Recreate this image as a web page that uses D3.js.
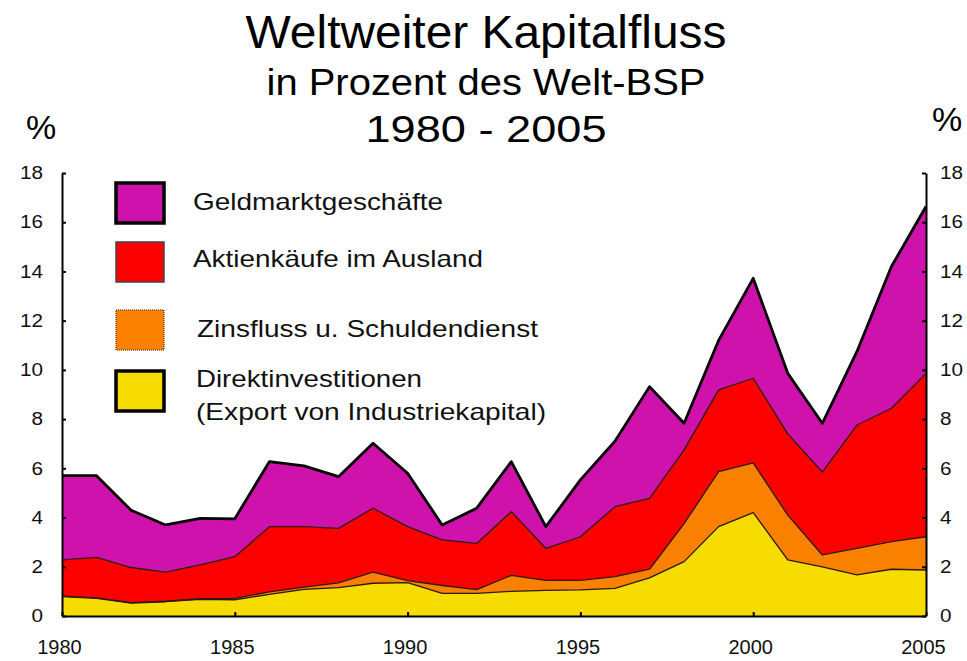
<!DOCTYPE html>
<html>
<head>
<meta charset="utf-8">
<script src="https://cdn.jsdelivr.net/npm/d3@7"></script>
<style>
  body { margin: 0; background: #fff; }
  svg { display: block; font-family: "Liberation Sans", Arial, sans-serif; }
  .axis path, .axis line { stroke: #000; stroke-width: 2; }
  .axis text { fill: #111; font-family: "Liberation Sans", Arial, sans-serif; }
</style>
</head>
<body>
<svg id="chart" width="967" height="661"></svg>
<script>
// Jahre und Werte (Prozent des Welt-BSP), von unten nach oben gestapelt
const years = d3.range(1980, 2006);
const direkt = [0.79, 0.72, 0.52, 0.58, 0.68, 0.66, 0.88, 1.08, 1.15, 1.33, 1.36, 0.92, 0.92,
                1.00, 1.04, 1.06, 1.12, 1.55, 2.21, 3.63, 4.20, 2.28, 2.00, 1.67, 1.90, 1.87];
const zins   = [0.02, 0.02, 0.02, 0.02, 0.02, 0.06, 0.10, 0.09, 0.20, 0.45, 0.08, 0.32, 0.15,
                0.65, 0.41, 0.39, 0.48, 0.35, 1.54, 2.24, 2.02, 1.82, 0.48, 1.08, 1.12, 1.35];
const aktien = [1.47, 1.64, 1.43, 1.18, 1.38, 1.69, 2.65, 2.46, 2.21, 2.60, 2.19, 1.85, 1.88,
                2.59, 1.30, 1.77, 2.84, 2.88, 3.00, 3.32, 3.44, 3.30, 3.37, 5.01, 5.42, 6.64];
const geld   = [3.42, 3.32, 2.33, 1.92, 1.89, 1.54, 2.64, 2.47, 2.10, 2.64, 2.17, 0.61, 1.43,
                2.03, 0.88, 2.31, 2.66, 4.54, 1.08, 2.01, 4.06, 2.46, 1.98, 2.98, 5.76, 6.78];
const yTicks = [0, 2, 4, 6, 8, 10, 12, 14, 16, 18];
const xTicks = [1980, 1985, 1990, 1995, 2000, 2005];

const keys = ["direkt", "zins", "aktien", "geld"];
const colors = {geld: "#d012ad", aktien: "#fc0000", zins: "#fa8000", direkt: "#f6dc00"};
const legend = [
  {key: "geld", lines: ["Geldmarktgeschäfte"], len: [250], y: 183, ty: [210], tx: 193, stroke: "#000", sw: 3.5},
  {key: "aktien", lines: ["Aktienkäufe im Ausland"], len: [290], y: 242, ty: [267], tx: 193, stroke: "#444", sw: 1.5},
  {key: "zins", lines: ["Zinsfluss u. Schuldendienst"], len: [341], y: 310, ty: [337], tx: 197, stroke: "#8a4a20", sw: 1.5, dash: "1,1"},
  {key: "direkt", lines: ["Direktinvestitionen", "(Export von Industriekapital)"], len: [226, 350], y: 371, ty: [387, 420], tx: 196, stroke: "#000", sw: 3.5}
];

const table = years.map((yr, i) => ({
  year: yr, direkt: direkt[i], zins: zins[i], aktien: aktien[i], geld: geld[i]
}));

const svg = d3.select("#chart");
const x = d3.scaleLinear().domain([1980, 2005]).range([62, 926]);
const y = d3.scaleLinear().domain([0, 18]).range([616, 173]);

const series = d3.stack().keys(keys)(table);

const area = d3.area()
  .x(d => x(d.data.year))
  .y0(d => y(d[0]))
  .y1(d => y(d[1]));
const topLine = d3.line()
  .x(d => x(d.data.year))
  .y(d => y(d[1]));

svg.append("g").selectAll("path")
  .data(series)
  .join("path")
  .attr("fill", d => colors[d.key])
  .attr("d", area);

svg.append("g").selectAll("path")
  .data(series)
  .join("path")
  .attr("fill", "none")
  .attr("stroke", d => d.key === "geld" ? "#000" : "#2a1a10")
  .attr("stroke-width", d => d.key === "geld" ? 2.8 : 1.3)
  .attr("stroke-linejoin", "round")
  .attr("d", topLine);

// Achsen
const yLeft = svg.append("g")
  .attr("class", "axis")
  .attr("transform", "translate(62,0)")
  .call(d3.axisLeft(y).tickValues(yTicks).tickSizeInner(-4).tickSizeOuter(0).tickPadding(19));
const yRight = svg.append("g")
  .attr("class", "axis")
  .attr("transform", "translate(926,0)")
  .call(d3.axisRight(y).tickValues(yTicks).tickSizeInner(-4).tickSizeOuter(0).tickPadding(14));
[yLeft, yRight].forEach(g => g.selectAll("text")
  .attr("font-size", 18)
  .attr("textLength", d => String(d).length * 11.5)
  .attr("lengthAdjust", "spacingAndGlyphs"));

const xAxis = svg.append("g")
  .attr("class", "axis")
  .attr("transform", "translate(0,616)")
  .call(d3.axisBottom(x).tickValues(xTicks).tickFormat(d3.format("d")).tickSizeInner(-4).tickSizeOuter(0).tickPadding(24));
xAxis.selectAll("text")
  .attr("font-size", 20)
  .attr("dx", -3);

// Titel
const titles = [
  {text: "Weltweiter Kapitalfluss", y: 48, size: 46, len: 481},
  {text: "in Prozent des Welt-BSP", y: 95, size: 36, len: 439},
  {text: "1980 - 2005", y: 142, size: 36, len: 241}
];
svg.append("g").selectAll("text")
  .data(titles)
  .join("text")
  .attr("x", 486)
  .attr("y", d => d.y)
  .attr("text-anchor", "middle")
  .attr("font-size", d => d.size)
  .attr("textLength", d => d.len)
  .attr("lengthAdjust", "spacingAndGlyphs")
  .text(d => d.text);

svg.append("text").attr("x", 41).attr("y", 139).attr("text-anchor", "middle")
  .attr("font-size", 34).text("%");
svg.append("text").attr("x", 947).attr("y", 131).attr("text-anchor", "middle")
  .attr("font-size", 34).text("%");

// Legende
const lg = svg.append("g").selectAll("g")
  .data(legend)
  .join("g");
lg.append("rect")
  .attr("x", 116)
  .attr("y", d => d.y)
  .attr("width", 48)
  .attr("height", 40)
  .attr("fill", d => colors[d.key])
  .attr("stroke", d => d.stroke)
  .attr("stroke-width", d => d.sw)
  .attr("stroke-dasharray", d => d.dash || null);
lg.each(function(d) {
  d3.select(this).selectAll("text")
    .data(d.lines.map((t, i) => ({t: t, y: d.ty[i], len: d.len[i], x: d.tx})))
    .join("text")
    .attr("x", t => t.x)
    .attr("y", t => t.y)
    .attr("font-size", 24)
    .attr("fill", "#111")
    .attr("textLength", t => t.len)
    .attr("lengthAdjust", "spacingAndGlyphs")
    .text(t => t.t);
});
</script>
</body>
</html>
